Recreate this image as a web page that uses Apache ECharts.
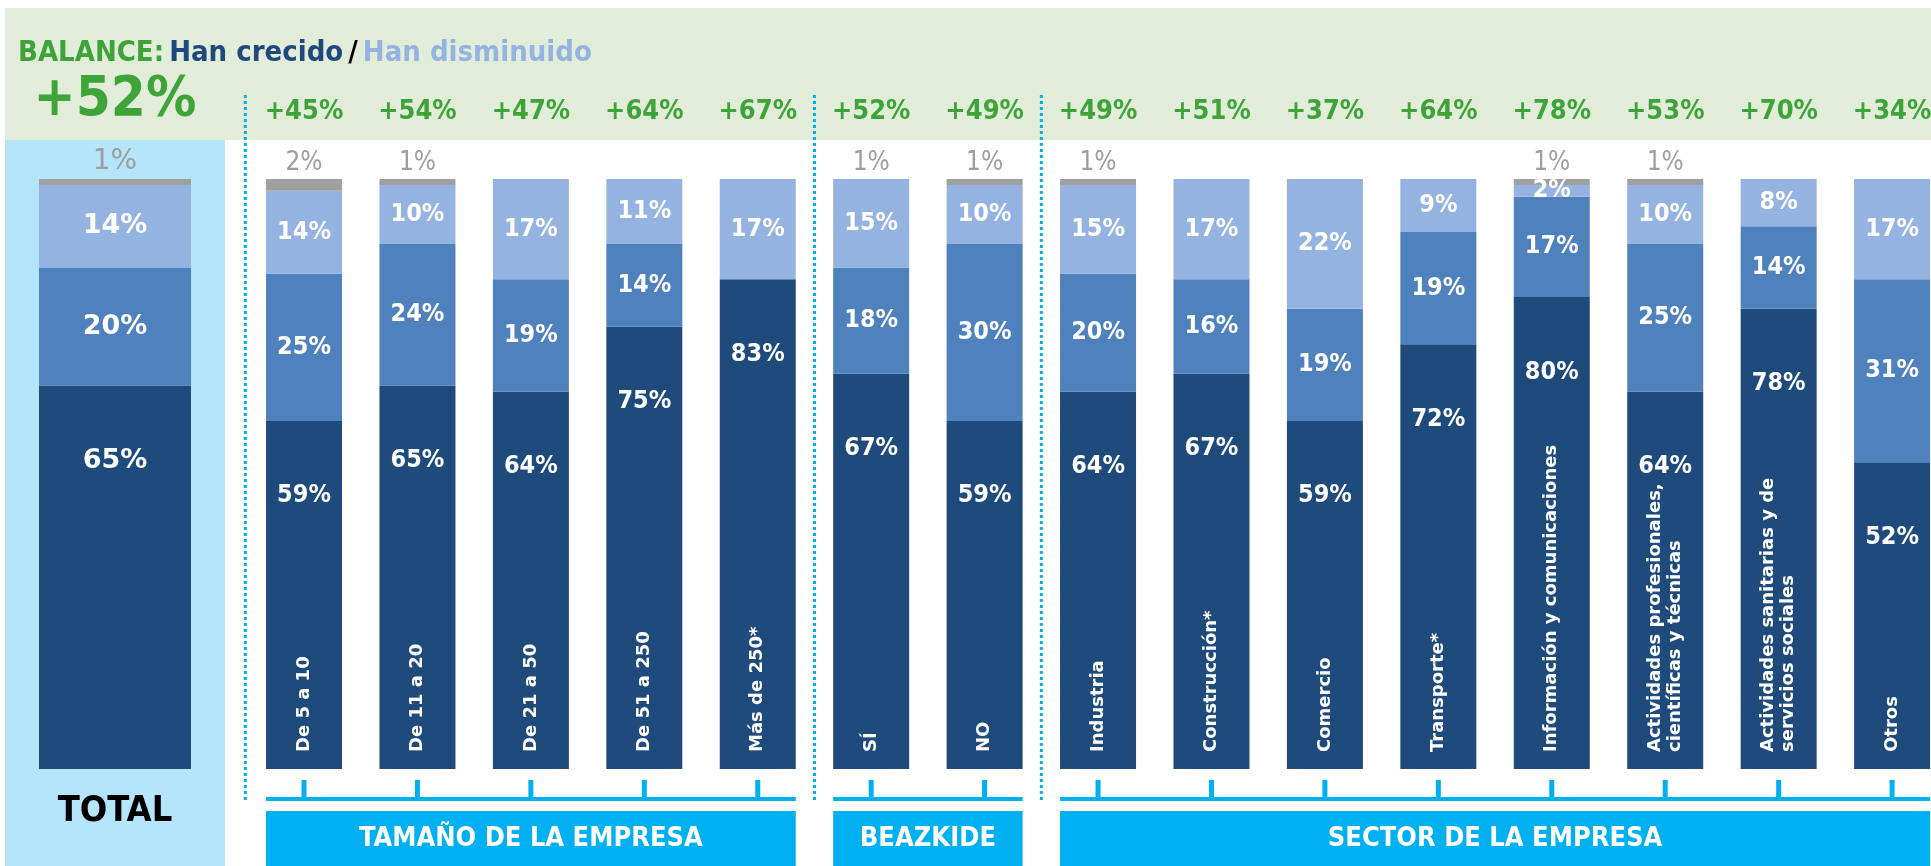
<!DOCTYPE html>
<html>
<head>
<meta charset="utf-8">
<script src="https://cdn.jsdelivr.net/npm/echarts@6/dist/echarts.min.js"></script>
<style>
html,body{margin:0;padding:0;background:#fff;}
#c{width:1931px;height:866px;}
</style>
</head>
<body>
<div id="c"></div>
<script>
// ---------- DATA ----------
const categories = ['De 5 a 10','De 11 a 20','De 21 a 50','De 51 a 250','Más de 250*','SÍ','NO','Industria','Construcción*','Comercio','Transporte*','Información y comunicaciones','Actividades profesionales,\ncientíficas y técnicas','Actividades sanitarias y de\nservicios sociales','Otros'];
const crecido    = [59,65,64,75,83,67,59,64,67,59,72,80,64,78,52];
const igual      = [25,24,19,14, 0,18,30,20,16,19,19,17,25,14,31];
const disminuido = [14,10,17,11,17,15,10,15,17,22, 9, 2,10, 8,17];
const nsnc       = [ 2, 1, 0, 0, 0, 1, 1, 1, 0, 0, 0, 1, 1, 0, 0];
const balance    = [45,54,47,64,67,52,49,49,51,37,64,78,53,70,34];

const totalCategory   = ['TOTAL'];
const totalCrecido    = [65];
const totalIgual      = [20];
const totalDisminuido = [14];
const totalNsnc       = [1];
const totalBalance    = [52];

const groupNames = ['TAMAÑO DE LA EMPRESA','BEAZKIDE','SECTOR DE LA EMPRESA'];
const groupFirst = [0,5,7];
const groupLast  = [4,6,14];

const seriesNames = ['Han crecido','Se han mantenido igual','Han disminuido','NS/NC'];

// ---------- STYLE ----------
const NARROW = '"Liberation Sans Narrow","DejaVu Sans Condensed","Arial Narrow",sans-serif';
const WIDE = '"DejaVu Sans",sans-serif';
const C_DARK = '#1F4A7C', C_MID = '#4F81BD', C_LIGHT = '#95B3E1', C_GRAY = '#A0A0A0';
const C_GREEN = '#3EA338', C_CYAN = '#00B0F0';

const pct = p => (p.value > 0 ? p.value + '%' : '');
const plus = v => '+' + v + '%';

const chart = echarts.init(document.getElementById('c'), null, {renderer:'canvas'});

function stack(xi, yi, vals, big) {
  const fam = big ? WIDE : NARROW;
  const fs = big ? 27 : 25;
  return [
    {name: seriesNames[0], type:'bar', stack:'s'+xi, xAxisIndex:xi, yAxisIndex:yi, data: vals[0],
     itemStyle:{color:C_DARK},
     label:{show:true, position:'insideTop', distance:61, formatter:pct, color:'#fff', fontFamily:fam, fontWeight:'bold', fontSize:fs, lineHeight:28}},
    {name: seriesNames[1], type:'bar', stack:'s'+xi, xAxisIndex:xi, yAxisIndex:yi, data: vals[1],
     itemStyle:{color:C_MID},
     label:{show:true, position:'inside', formatter:pct, color:'#fff', fontFamily:fam, fontWeight:'bold', fontSize:fs}},
    {name: seriesNames[2], type:'bar', stack:'s'+xi, xAxisIndex:xi, yAxisIndex:yi, data: vals[2],
     itemStyle:{color:C_LIGHT},
     label:{show:true, position:'inside', formatter:pct, color:'#fff', fontFamily:fam, fontWeight:'bold', fontSize:fs}},
    {name: seriesNames[3], type:'bar', stack:'s'+xi, xAxisIndex:xi, yAxisIndex:yi, data: vals[3],
     itemStyle:{color:C_GRAY},
     label:{show:true, position:'top', distance:3, formatter:pct, color:'#9E9E9E', fontFamily:fam, fontSize: big ? 28 : 26}}
  ];
}

const option = {
  animation:false,
  backgroundColor:'#ffffff',
  title:{
    left:13, top:33,
    text:'{a|BALANCE:} {b|Han crecido} {k|/} {c|Han disminuido}',
    textStyle:{
      rich:{
        a:{color:C_GREEN, fontFamily:NARROW, fontWeight:'bold', fontSize:29, lineHeight:30},
        b:{color:'#1F497D', fontFamily:NARROW, fontWeight:'bold', fontSize:29, lineHeight:30},
        k:{color:'#000', fontFamily:NARROW, fontWeight:'bold', fontSize:29, lineHeight:30},
        c:{color:'#95B3E1', fontFamily:NARROW, fontWeight:'bold', fontSize:29, lineHeight:30}
      }
    }
  },
  grid:[
    {left:5, width:220, top:179, bottom:97, outerBoundsMode:'none'},
    {left:247.3, width:1701.5, top:179, bottom:97, outerBoundsMode:'none'}
  ],
  xAxis:[
    {type:'category', gridIndex:0, data: totalCategory, z:5,
     axisLine:{show:false}, axisTick:{show:false},
     axisLabel:{margin:25, color:'#000', fontFamily:NARROW, fontWeight:'bold', fontSize:36, lineHeight:36}},
    {type:'category', gridIndex:0, position:'top', data: totalBalance.map(plus), z:5,
     axisLine:{show:false}, axisTick:{show:false},
     axisLabel:{margin:51, color:C_GREEN, fontFamily:NARROW, fontWeight:'bold', fontSize:56, lineHeight:56}},
    {type:'category', gridIndex:1, data: categories, z:5,
     axisLine:{show:false}, axisTick:{show:false},
     axisLabel:{inside:true, rotate:90, margin:17, interval:0, color:'#fff', fontFamily:WIDE, fontWeight:'bold', fontSize:18, lineHeight:20}},
    {type:'category', gridIndex:1, position:'top', data: balance.map(plus), z:5,
     axisLine:{show:false}, axisTick:{show:false},
     axisLabel:{margin:53, interval:0, color:C_GREEN, fontFamily:NARROW, fontWeight:'bold', fontSize:27, lineHeight:28}}
  ],
  yAxis:[
    {type:'value', gridIndex:0, min:0, max:100, show:false},
    {type:'value', gridIndex:1, min:0, max:100, show:false}
  ],
  series: [].concat(
    stack(0, 0, [totalCrecido, totalIgual, totalDisminuido, totalNsnc], true).map(s => Object.assign(s, {barWidth:152})),
    stack(2, 1, [crecido, igual, disminuido, nsnc], false).map(s => Object.assign(s, {barWidth:76}))
  )
};
chart.setOption(option);

// ---------- DECORATION (positions from the axes) ----------
const px = i => chart.convertToPixel({xAxisIndex:2}, i);
const band = px(1) - px(0);
const barW = 76;
const yBase = chart.convertToPixel({yAxisIndex:1}, 0);
const els = [];
// background bands
els.push({type:'rect', z:-10, shape:{x:5, y:8, width:1926, height:132}, style:{fill:'#E2EDD9'}});
els.push({type:'rect', z:-10, shape:{x:5, y:140, width:220, height:726}, style:{fill:'#B4E5FB'}});
// dotted separators
const sepX = [px(0) - band/2 - 2, (px(groupLast[0]) + px(groupFirst[1]))/2, (px(groupLast[1]) + px(groupFirst[2]))/2];
sepX.forEach(x => els.push({type:'line', z:1, shape:{x1:x, y1:95, x2:x, y2:yBase+33},
  style:{stroke:C_CYAN, lineWidth:3, lineDash:[3,3]}}));
// group axes, ticks, boxes
groupNames.forEach((g, gi) => {
  const x0 = px(groupFirst[gi]) - barW/2;
  const x1 = Math.min(px(groupLast[gi]) + barW/2, 1931);
  els.push({type:'rect', z:1, shape:{x:x0, y:yBase+28, width:x1-x0, height:4}, style:{fill:C_CYAN}});
  for (let i = groupFirst[gi]; i <= groupLast[gi]; i++) {
    els.push({type:'rect', z:1, shape:{x:px(i)-2.5, y:yBase+11, width:5, height:20}, style:{fill:C_CYAN}});
  }
  els.push({type:'rect', z:1, shape:{x:x0, y:yBase+42, width:x1-x0, height:866-(yBase+42)}, style:{fill:C_CYAN}});
  els.push({type:'text', z:2, x:(x0+x1)/2, y:yBase+42+(866-yBase-42)/2,
    style:{text:g, fill:'#fff', font:'bold 27px ' + NARROW, textAlign:'center', textVerticalAlign:'middle'}});
});
chart.setOption({graphic:{elements:els}});
</script>
</body>
</html>
